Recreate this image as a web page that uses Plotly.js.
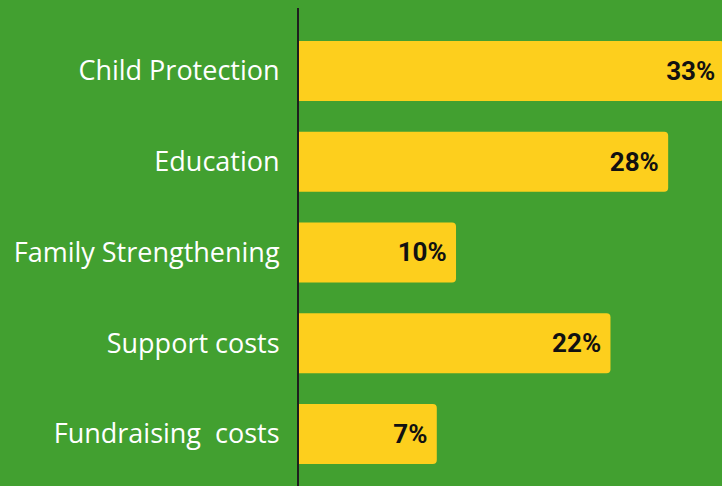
<!DOCTYPE html>
<html>
<head>
<meta charset="utf-8">
<script src="https://cdn.plot.ly/plotly-3.0.1.min.js"></script>
<style>
  html, body { margin: 0; padding: 0; background: #42a030; }
  #chart { width: 722px; height: 486px; }
</style>
</head>
<body>
<div id="chart"></div>
<script>
// Categories, top to bottom
const categories = ["Child Protection", "Education", "Family Strengthening", "Support costs", "Fundraising  costs"];
// Share labels shown on the bars (%)
const shares = [33, 28, 10, 22, 7];
// Drawn bar lengths (same % scale; the artwork is not strictly proportional)
const barLengths = [33.2, 28.8, 12.25, 24.3, 10.75];

const green = "#42a030";
const yellow = "#fdcf1d";

const trace = {
  type: "bar",
  orientation: "h",
  y: categories,
  x: barLengths,
  text: shares.map(v => v + "%\u2009"),
  textposition: "inside",
  insidetextanchor: "end",
  textangle: 0,
  textfont: { family: "Roboto, Lato, sans-serif", size: 26, color: "#111111", weight: 700 },
  marker: { color: yellow, cornerradius: 4, line: { width: 0 } },
  width: 0.66,
  hoverinfo: "none",
  cliponaxis: true
};

const layout = {
  width: 722,
  height: 486,
  margin: { l: 299, r: 0, t: 8, b: 0, pad: 0 },
  paper_bgcolor: green,
  plot_bgcolor: green,
  showlegend: false,
  xaxis: {
    range: [0, 33],
    visible: false,
    showgrid: false,
    zeroline: false,
    fixedrange: true
  },
  yaxis: {
    type: "category",
    range: [4.573, -0.694],
    showgrid: false,
    zeroline: false,
    showline: true,
    linecolor: "#1e1e1e",
    linewidth: 2,
    ticks: "",
    ticklabelstandoff: 12,
    tickfont: { family: "'Open Sans', 'Noto Sans', sans-serif", size: 27, color: "#ffffff" },
    fixedrange: true
  }
};

Plotly.newPlot("chart", [trace], layout, { displayModeBar: false, staticPlot: true });
</script>
</body>
</html>
